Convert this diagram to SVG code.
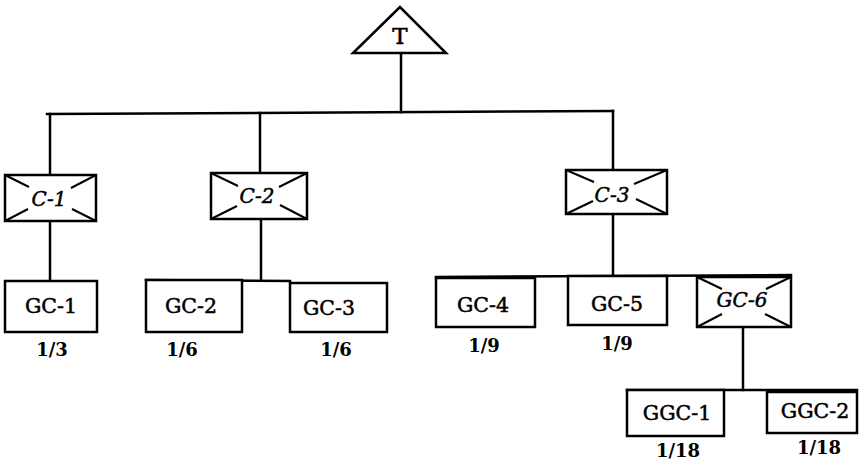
<svg xmlns="http://www.w3.org/2000/svg" width="859" height="461" viewBox="0 0 859 461">
<style>
.ln{stroke:#000;stroke-width:2.5;fill:none;stroke-linecap:square}
.bx{stroke:#000;stroke-width:2.5;fill:#fff}
.dg{stroke:#000;stroke-width:2;fill:none}
.t{font-family:"DejaVu Serif","Liberation Serif",serif;font-size:20.5px;text-anchor:middle;fill:#000;stroke:#000;stroke-width:0.5}
.i{font-family:"DejaVu Serif","Liberation Serif",serif;font-size:20px;font-style:italic;text-anchor:middle;fill:#000;stroke:#000;stroke-width:0.5}
.f{font-family:"DejaVu Serif","Liberation Serif",serif;font-size:18px;font-weight:bold;text-anchor:middle;fill:#000}
</style>
<rect width="859" height="461" fill="#fff"/>
<g id="connectors">
<polyline class="ln" points="47,114 613,111"/>
<line class="ln" x1="401" y1="53" x2="401" y2="112"/>
<line class="ln" x1="50" y1="114" x2="50" y2="175"/>
<line class="ln" x1="260" y1="113" x2="260" y2="173"/>
<line class="ln" x1="613" y1="111" x2="613" y2="170"/>
<line class="ln" x1="50" y1="221" x2="50" y2="281"/>
<line class="ln" x1="261" y1="219" x2="261" y2="280"/>
<line class="ln" x1="146" y1="280" x2="290" y2="281"/>
<line class="ln" x1="613" y1="214" x2="613" y2="276"/>
<line class="ln" x1="436" y1="277" x2="791" y2="275"/>
<line class="ln" x1="743" y1="327" x2="743" y2="390"/>
<line class="ln" x1="627" y1="390" x2="857" y2="390"/>
</g>
<g id="T">
<polygon class="bx" points="400,7 353,53 446,53"/>
<text class="t" x="400" y="44" style="font-size:23px">T</text>
</g>
<g id="C-1">
<rect class="bx" x="5" y="175" width="91" height="46"/>
<path class="dg" d="M5,175 L29,187 M96,175 L71,188 M5,221 L28,209 M96,221 L72,209"/>
<text class="i" x="49" y="206">C-1</text>
</g>
<g id="C-2">
<rect class="bx" x="211" y="173" width="96" height="46"/>
<path class="dg" d="M211,173 L238,186 M307,173 L279,187 M211,219 L237,206 M307,219 L280,205"/>
<text class="i" x="257" y="203">C-2</text>
</g>
<g id="C-3">
<rect class="bx" x="566" y="170" width="101" height="44"/>
<path class="dg" d="M566,170 L594,182 M667,170 L634,184 M566,214 L593,201 M667,214 L636,199"/>
<text class="i" x="612" y="202">C-3</text>
</g>
<g id="GC-1">
<rect class="bx" x="5" y="281" width="92" height="51"/>
<text class="t" x="51" y="313">GC-1</text>
<text class="f" x="52" y="356">1/3</text>
</g>
<g id="GC-2">
<rect class="bx" x="146" y="280" width="96" height="52"/>
<text class="t" x="191" y="313">GC-2</text>
<text class="f" x="182" y="356">1/6</text>
</g>
<g id="GC-3">
<rect class="bx" x="290" y="283" width="97" height="49"/>
<text class="t" x="329" y="315">GC-3</text>
<text class="f" x="336" y="356">1/6</text>
</g>
<g id="GC-4">
<rect class="bx" x="436" y="278" width="99" height="49"/>
<text class="t" x="483" y="312">GC-4</text>
<text class="f" x="484" y="352">1/9</text>
</g>
<g id="GC-5">
<rect class="bx" x="568" y="276" width="99" height="49"/>
<text class="t" x="617" y="311">GC-5</text>
<text class="f" x="617" y="350">1/9</text>
</g>
<g id="GC-6">
<rect class="bx" x="697" y="277" width="94" height="50"/>
<path class="dg" d="M697,277 L722,289 M791,277 L766,289 M697,327 L722,314 M791,327 L765,314"/>
<text class="i" x="742" y="307">GC-6</text>
</g>
<g id="GGC-1">
<rect class="bx" x="627" y="390" width="97" height="46"/>
<text class="t" x="677" y="420">GGC-1</text>
<text class="f" x="678" y="457">1/18</text>
</g>
<g id="GGC-2">
<rect class="bx" x="767" y="392" width="90" height="41"/>
<text class="t" x="815" y="418">GGC-2</text>
<text class="f" x="819" y="454">1/18</text>
</g>
</svg>
